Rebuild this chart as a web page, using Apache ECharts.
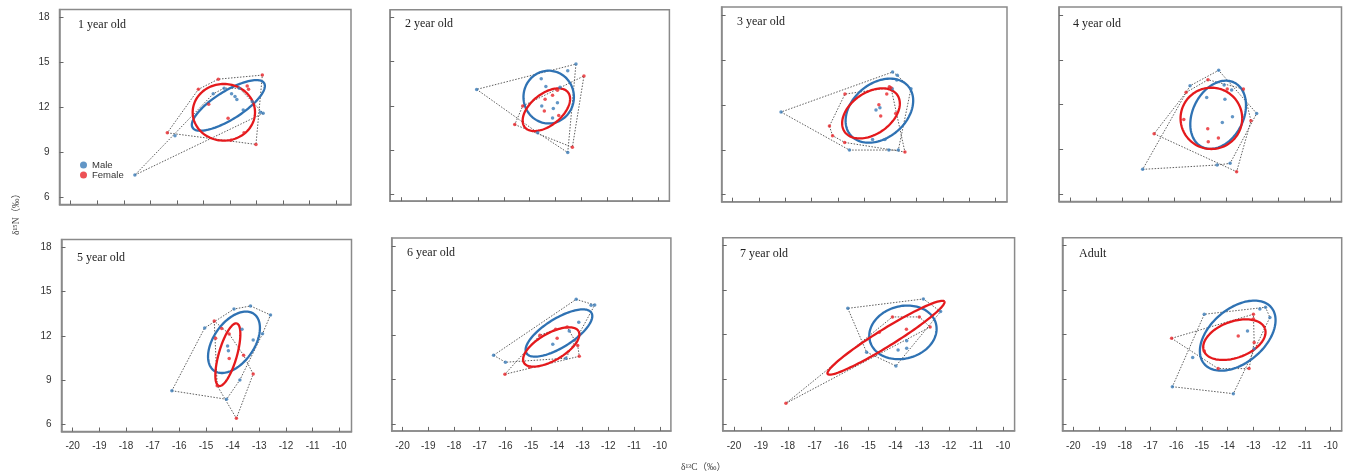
<!DOCTYPE html>
<html><head><meta charset="utf-8">
<script src="https://cdn.jsdelivr.net/npm/echarts@6/dist/echarts.min.js"></script>
<style>html,body{margin:0;padding:0;background:#fff}#c{width:1346px;height:473px}</style>
</head><body><div id="c"></div>
<script>
// ---------- data ----------
const panelTitles = ['1 year old','2 year old','3 year old','4 year old','5 year old','6 year old','7 year old','Adult'];
const xTicks = [-20,-19,-18,-17,-16,-15,-14,-13,-12,-11,-10];
const yTicks = [6,9,12,15,18];

const male1 = [[-17.58,7.49],[-16.07,10.1],[-14.63,12.9],[-14.22,13.28],[-13.94,12.9],[-13.81,12.73],[-13.74,12.53],[-13.65,13.27],[-13.5,11.82],[-13.16,12.38],[-12.85,11.68],[-12.75,11.6]];
const female1 = [[-16.36,10.3],[-15.19,13.2],[-14.44,13.88],[-12.78,14.15],[-14.8,12.2],[-14.07,11.27],[-13.35,13.42],[-13.3,13.2],[-13.96,9.8],[-13.47,10.3],[-13.02,9.53]];
const male2 = [[-17.06,13.12],[-13.2,14.84],[-13.52,14.39],[-14.55,13.85],[-14.37,13.31],[-13.82,13.26],[-14.53,11.99],[-14.08,11.83],[-13.92,12.22],[-14.11,11.18],[-13.52,8.83],[-14.69,10.18]];
const female2 = [[-12.89,14.03],[-13.34,9.19],[-15.58,10.73],[-15.27,11.99],[-14.4,12.45],[-14.11,12.72],[-14.43,11.65],[-13.87,11.34],[-13.92,13.07]];
const male3 = [[-18.16,11.52],[-13.92,14.19],[-13.74,13.97],[-13.76,13.66],[-13.22,13.08],[-13.93,13.08],[-14.55,11.65],[-14.4,11.81],[-14.21,9.69],[-14.68,9.69],[-15.56,8.98],[-14.06,8.98],[-13.7,8.98]];
const female3 = [[-15.73,12.72],[-16.32,10.58],[-16.2,9.94],[-15.74,9.49],[-13.45,8.85],[-14.04,13.21],[-14.14,12.72],[-14.44,12.0],[-14.37,11.25],[-13.8,11.43],[-13.98,13.15]];
const male4 = [[-17.21,7.68],[-15.39,13.27],[-14.29,14.3],[-12.83,11.42],[-13.85,8.08],[-14.35,7.97],[-14.75,12.49],[-14.05,12.36],[-14.08,13.32],[-13.79,12.98],[-13.76,11.2],[-14.15,10.82]];
const female4 = [[-16.77,10.06],[-15.54,12.83],[-14.7,13.67],[-13.34,13.05],[-13.05,10.93],[-13.6,7.52],[-15.63,11.02],[-14.71,10.4],[-14.69,9.53],[-14.3,9.77],[-13.96,13.05]];
const male5 = [[-16.28,8.29],[-15.05,12.54],[-13.95,13.82],[-13.33,14.03],[-12.58,13.42],[-12.88,12.15],[-13.23,11.72],[-13.65,12.45],[-14.19,11.32],[-14.16,11.0],[-14.23,7.71],[-13.73,9.02]];
const female5 = [[-14.69,13.01],[-14.41,12.51],[-14.64,11.84],[-14.13,12.13],[-14.13,10.48],[-13.59,10.69],[-13.23,9.42],[-14.58,8.63],[-13.86,6.42]];
const male6 = [[-16.46,10.63],[-16.0,10.16],[-13.25,14.4],[-12.67,14.0],[-12.53,14.02],[-13.15,12.85],[-13.52,12.27],[-14.16,11.37],[-13.65,10.43]];
const female6 = [[-16.02,9.35],[-15.06,9.82],[-14.66,11.98],[-14.05,12.38],[-13.99,11.78],[-13.6,12.54],[-13.19,11.28],[-13.13,10.56]];
const male7 = [[-15.77,13.78],[-12.96,14.41],[-12.32,13.56],[-15.07,10.82],[-13.98,9.9],[-13.58,11.6],[-13.9,10.97],[-13.58,11.09]];
const female7 = [[-18.07,7.38],[-14.11,13.2],[-13.11,13.2],[-12.71,12.52],[-14.6,12.16],[-13.59,12.37]];
const male8 = [[-14.91,13.38],[-12.75,13.74],[-12.53,13.85],[-12.36,13.17],[-13.23,12.25],[-15.36,10.46],[-16.15,8.5],[-13.78,8.03],[-12.97,11.05]];
const female8 = [[-16.18,11.76],[-13.0,13.38],[-13.0,13.06],[-13.59,11.92],[-12.97,11.47],[-14.91,10.9],[-14.37,9.72],[-13.17,9.72]];

// ellipse: [centerX, centerY, semi-diameter 1 (dx,dy), semi-diameter 2 (dx,dy)] in data units
const maleEllipses = [
  [-14.06,12.13, 1.346,1.489, 0.281,-0.797],
  [-14.26,12.6, 0.98,0, 0,1.79],
  [-14.42,11.61, 1.10,1.626, 0.664,-1.39],
  [-14.31,11.33, 0.627,2.145, 0.867,-0.769],
  [-13.95,11.57, 0.746,1.923, 0.625,-0.79],
  [-13.92,12.13, 1.262,1.366, 0.296,-0.821],
  [-13.72,12.16, 1.226,0.595, 0.253,-1.706],
  [-13.61,11.94, 1.305,1.899, 0.678,-1.4]
];
const femaleEllipses = [
  [-14.23,11.67, 1.174,0, 0,1.889],
  [-14.35,11.74, 0.837,1.19, 0.386,-0.826],
  [-14.74,11.43, 1.0,1.232, 0.451,-1.131],
  [-14.57,11.09, 1.184,0, 0,2.05],
  [-14.18,10.73, 0.336,2.115, 0.327,-0.169],
  [-14.22,11.19, 1.062,1.065, 0.263,-0.791],
  [-14.35,11.8, 2.169,2.438, 0.17,-0.496],
  [-13.74,11.67, 1.187,0.748, 0.241,-1.147]
];

const maleSets = [male1,male2,male3,male4,male5,male6,male7,male8];
const femaleSets = [female1,female2,female3,female4,female5,female6,female7,female8];

// ---------- layout ----------
// per panel: position of x=-20 tick, pixels per x unit, top, height
const X_MIN = -20.42, Y_MIN = 5.53, Y_MAX = 18.53;
const panelBoxes = [
  {left:59.5, right:351, pxu:26.55, top:9.4, height:195},
  {left:390.2, right:669.4, pxu:25.73, top:9.7, height:191.5},
  {left:721.6, right:1007, pxu:26.3, top:7.1, height:194.6},
  {left:1059.1, right:1341.5, pxu:26.03, top:7.1, height:194.4},
  {left:61.5, right:351.5, pxu:26.66, top:239.5, height:192},
  {left:391.7, right:670.9, pxu:25.73, top:238.1, height:192.8},
  {left:722.7, right:1014.6, pxu:26.9, top:237.8, height:193},
  {left:1062.5, right:1341.7, pxu:25.73, top:237.8, height:193}
];
const titlePos = [[78,25],[405,24],[737,21.5],[1073,24],[77,257.5],[407,253.3],[740,254.3],[1079,254.3]];

const BLUE = '#2f72b3', RED = '#e4191c', BLUE_PT = '#3b7cb8', RED_PT = '#e8262a';

function convexHull(points){
  const p = points.slice().sort((a,b)=>a[0]-b[0]||a[1]-b[1]);
  const cross=(o,a,b)=>(a[0]-o[0])*(b[1]-o[1])-(a[1]-o[1])*(b[0]-o[0]);
  const lower=[];
  for(const q of p){while(lower.length>=2&&cross(lower[lower.length-2],lower[lower.length-1],q)<=0)lower.pop();lower.push(q);}
  const upper=[];
  for(let i=p.length-1;i>=0;i--){const q=p[i];while(upper.length>=2&&cross(upper[upper.length-2],upper[upper.length-1],q)<=0)upper.pop();upper.push(q);}
  upper.pop();lower.pop();
  const h=lower.concat(upper);h.push(h[0]);return h;
}

function ellipseSeries(i, ell, color){
  return {
    type:'custom', xAxisIndex:i, yAxisIndex:i, z:3, silent:true, animation:false,
    data:[ell],
    encode:{x:0,y:1},
    renderItem:function(params, api){
      const v=[0,1,2,3,4,5].map(k=>api.value(k));
      const pts=[];
      for(let k=0;k<=120;k++){
        const t=k/120*Math.PI*2;
        pts.push(api.coord([v[0]+v[2]*Math.cos(t)+v[4]*Math.sin(t), v[1]+v[3]*Math.cos(t)+v[5]*Math.sin(t)]));
      }
      return {type:'polyline', shape:{points:pts}, style:{fill:null, stroke:color, lineWidth:2.3}};
    }
  };
}

const grids=[], xAxes=[], yAxes=[], series=[], graphics=[];
for(let i=0;i<8;i++){
  const g=panelBoxes[i];
  const w=g.right-g.left;
  const xMax = X_MIN + w/g.pxu;
  grids.push({left:g.left, top:g.top, width:w, height:g.height, show:true, borderColor:'#8a8a8a', borderWidth:1.5, backgroundColor:'#fff'});
  const bottomRow = i>=4, leftCol = (i===0||i===4);
  xAxes.push({type:'value', gridIndex:i, min:X_MIN, max:xMax,
    axisLine:{show:true, onZero:false, lineStyle:{color:'#8a8a8a', width:1.5}},
    axisTick:{show:true, inside:true, length:4, customValues:xTicks, lineStyle:{color:'#666'}},
    axisLabel:{show:bottomRow, customValues:xTicks, margin:10, fontSize:10, color:'#333', fontFamily:'Liberation Sans, Arial, sans-serif'},
    splitLine:{show:false}});
  yAxes.push({type:'value', gridIndex:i, min:Y_MIN, max:Y_MAX,
    axisLine:{show:true, onZero:false, lineStyle:{color:'#8a8a8a', width:1.5}},
    axisTick:{show:true, inside:true, length:4, customValues:yTicks, lineStyle:{color:'#666'}},
    axisLabel:{show:leftCol, customValues:yTicks, margin:10, fontSize:10, color:'#333', fontFamily:'Liberation Sans, Arial, sans-serif'},
    splitLine:{show:false}});

  [maleSets[i], femaleSets[i]].forEach(function(set){
    series.push({type:'line', xAxisIndex:i, yAxisIndex:i, data:convexHull(set), symbol:'none', showSymbol:false,
      silent:true, animation:false, z:1,
      lineStyle:{color:'#5e5e5e', width:1, type:[1.5,1.5]}});
  });
  series.push(ellipseSeries(i, maleEllipses[i], BLUE));
  series.push(ellipseSeries(i, femaleEllipses[i], RED));
  series.push({type:'scatter', name:'Male', xAxisIndex:i, yAxisIndex:i, data:maleSets[i], symbolSize:3.5, z:5, animation:false,
    itemStyle:{color:BLUE_PT}});
  series.push({type:'scatter', name:'Female', xAxisIndex:i, yAxisIndex:i, data:femaleSets[i], symbolSize:3.5, z:5, animation:false,
    itemStyle:{color:RED_PT}});

  graphics.push({type:'text', x:titlePos[i][0], y:titlePos[i][1], z:10,
    style:{text:panelTitles[i], fill:'#222', font:'12px "Liberation Serif", "Times New Roman", serif', textAlign:'left', textVerticalAlign:'middle'}});
}
graphics.push({type:'text', x:16, y:212, rotation:Math.PI/2, z:10,
  style:{text:'δ¹⁵N（‰）', fill:'#444', font:'9.5px "Liberation Serif", "Noto Sans CJK SC", serif', textAlign:'center', textVerticalAlign:'middle'}});
graphics.push({type:'text', x:681, y:467, z:10,
  style:{text:'δ¹³C（‰）', fill:'#444', font:'9.5px "Liberation Serif", "Noto Sans CJK SC", serif', textAlign:'left', textVerticalAlign:'middle'}});

const chart = echarts.init(document.getElementById('c'), null, {renderer:'canvas'});
chart.setOption({
  animation:false,
  backgroundColor:'#fff',
  grid:grids, xAxis:xAxes, yAxis:yAxes, series:series,
  legend:{data:['Male','Female'], orient:'vertical', left:75, top:155, itemWidth:7, itemHeight:7, itemGap:0, icon:'circle',
    selectedMode:false,
    textStyle:{fontSize:9.5, color:'#333', fontFamily:'Liberation Sans, Arial, sans-serif', lineHeight:10}},
  graphic:graphics
});
</script></body></html>
